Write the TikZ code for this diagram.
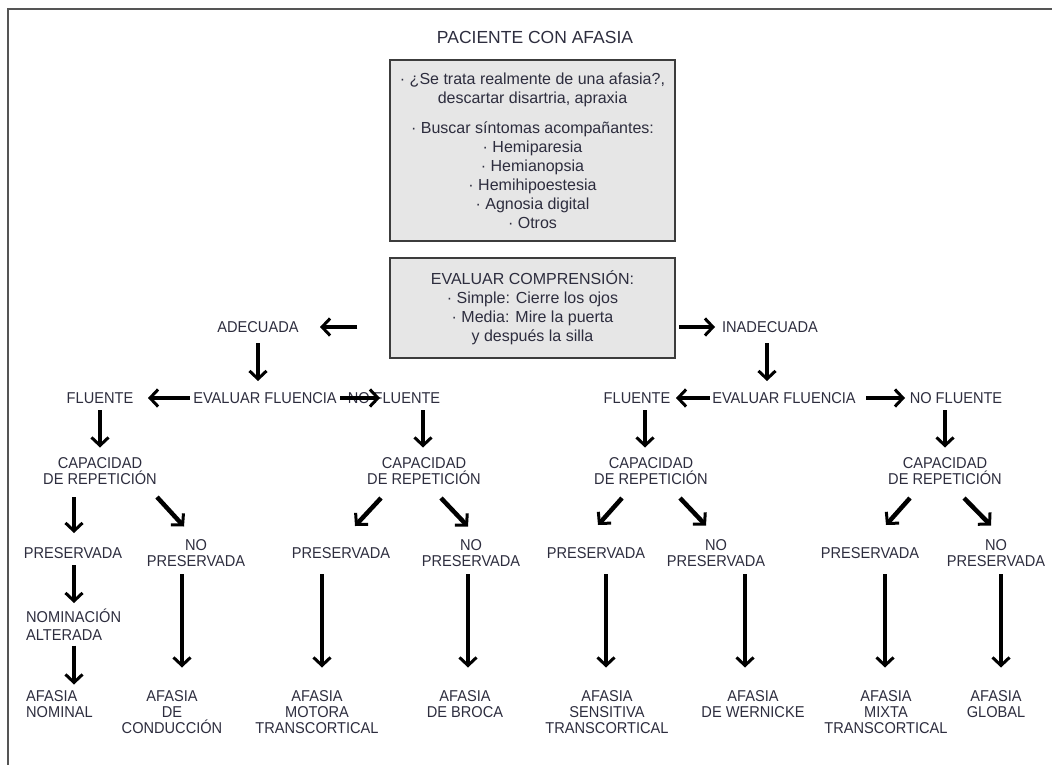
\documentclass[tikz,border=0pt]{standalone}
\usepackage{fontspec}
\setmainfont{Liberation Sans}
\newfontfamily\capsfont[FakeStretch=0.93]{Liberation Sans}
\usetikzlibrary{arrows.meta,calc}
\definecolor{txt}{RGB}{45,45,62}
\definecolor{boxfill}{RGB}{230,230,230}
\definecolor{boxline}{RGB}{60,60,60}
\definecolor{frame}{RGB}{85,85,85}
\tikzset{
  lbl/.style={inner sep=0pt, text=txt, font=\capsfont\fontsize{15.7}{16}\selectfont, align=center},
  lbll/.style={lbl, align=left},
  infobox/.style={draw=boxline, line width=1.5pt, fill=boxfill, minimum width=285pt, inner sep=0pt,
    text=txt, font=\fontsize{16}{19}\selectfont, align=center},
  arr/.style={line width=4.5pt, -{Straight Barb[length=8pt,width=17pt,line width=3pt]}},
}
\begin{document}
\begin{tikzpicture}[x=1pt,y=-1pt]
\useasboundingbox (0,0) rectangle (1052,765);
\draw[frame, line width=2pt] (8,765) -- (8,9) -- (1052,9);

\node[inner sep=0pt, text=txt, font=\fontsize{17.5}{20}\selectfont] (title) at (535,37) {PACIENTE CON AFASIA};

\node[infobox, minimum height=181pt] (box1) at (532.5,150.5) {%
· ¿Se trata realmente de una afasia?,\\
descartar disartria, apraxia\\[11pt]
· Buscar síntomas acompañantes:\\
· Hemiparesia\\
· Hemianopsia\\
· Hemihipoestesia\\
· Agnosia digital\\
· Otros};

\node[infobox, minimum height=100pt] (box2) at (532.5,308) {%
EVALUAR COMPRENSIÓN:\\
· Simple: Cierre los ojos\\
· Media: Mire la puerta\\
y después la silla};

\node[lbl] (adec) at (258,327) {ADECUADA};
\node[lbl] (inadec) at (770,327) {INADECUADA};

\node[lbl] (fl1) at (100,398) {FLUENTE};
\node[lbl] (evf1) at (265,398) {EVALUAR FLUENCIA};
\node[lbl] (nf1) at (394,398) {NO FLUENTE};
\node[lbl] (fl2) at (637,398) {FLUENTE};
\node[lbl] (evf2) at (784,398) {EVALUAR FLUENCIA};
\node[lbl] (nf2) at (956,398) {NO FLUENTE};

\node[lbl, anchor=north] (cap1) at (100,457.5) {CAPACIDAD\\DE REPETICIÓN};
\node[lbl, anchor=north] (cap2) at (424,457.5) {CAPACIDAD\\DE REPETICIÓN};
\node[lbl, anchor=north] (cap3) at (651,457.5) {CAPACIDAD\\DE REPETICIÓN};
\node[lbl, anchor=north] (cap4) at (945,457.5) {CAPACIDAD\\DE REPETICIÓN};

\node[lbl] (p1) at (73,553) {PRESERVADA};
\node[lbl] (p2) at (341,553) {PRESERVADA};
\node[lbl] (p3) at (596,553) {PRESERVADA};
\node[lbl] (p4) at (870,553) {PRESERVADA};
\node[lbl, anchor=north] (np1) at (196,539.5) {NO\\PRESERVADA};
\node[lbl, anchor=north] (np2) at (471,539.5) {NO\\PRESERVADA};
\node[lbl, anchor=north] (np3) at (716,539.5) {NO\\PRESERVADA};
\node[lbl, anchor=north] (np4) at (996,539.5) {NO\\PRESERVADA};

\node[lbll, anchor=north west, font=\capsfont\fontsize{15.7}{17.5}\selectfont] (nom) at (26,609) {NOMINACIÓN\\ALTERADA};

\node[lbll, anchor=north west] (af1) at (26,690.5) {AFASIA\\NOMINAL};
\node[lbl, anchor=north] (af2) at (172,690.5) {AFASIA\\DE\\CONDUCCIÓN};
\node[lbl, anchor=north] (af3) at (317,690.5) {AFASIA\\MOTORA\\TRANSCORTICAL};
\node[lbl, anchor=north] (af4) at (465,690.5) {AFASIA\\DE BROCA};
\node[lbl, anchor=north] (af5) at (607,690.5) {AFASIA\\SENSITIVA\\TRANSCORTICAL};
\node[lbl, anchor=north] (af6) at (753,690.5) {AFASIA\\DE WERNICKE};
\node[lbl, anchor=north] (af7) at (886,690.5) {AFASIA\\MIXTA\\TRANSCORTICAL};
\node[lbl, anchor=north] (af8) at (996,690.5) {AFASIA\\GLOBAL};

% comprension
\draw[arr] ($(box2.west)+(-32,19)$) -- ($(adec)+(62,0)$);
\draw[arr] ($(box2.east)+(3,19)$) -- ($(inadec)+(-55,0)$);
\draw[arr] ($(adec)+(0,16)$) -- ($(evf1)+(-7,-17)$);
\draw[arr] ($(inadec)+(-3,16)$) -- ($(evf2)+(-17,-17)$);
% fluencia
\draw[arr] ($(evf1)+(-75,0)$) -- ($(fl1)+(48,0)$);
\draw[arr] ($(evf1)+(75,0)$) -- ($(nf1)+(-14,0)$);
\draw[arr] ($(evf2)+(-74,0)$) -- ($(fl2)+(39,0)$);
\draw[arr] ($(evf2)+(82,0)$) -- ($(nf2)+(-51,0)$);
\draw[arr] ($(fl1)+(0,12)$) -- ($(cap1.north)+(0,-10)$);
\draw[arr] ($(nf1)+(29,12)$) -- ($(cap2.north)+(-1,-10)$);
\draw[arr] ($(fl2)+(8,12)$) -- ($(cap3.north)+(-6,-10)$);
\draw[arr] ($(nf2)+(-11,12)$) -- ($(cap4.north)+(0,-10)$);
% repeticion
\draw[arr] ($(cap1.south)+(-26,12)$) -- ($(p1)+(1,-20)$);
\draw[arr] ($(cap1.south)+(57,12)$) -- ($(np1.north)+(-12,-13)$);
\draw[arr] ($(cap2.south)+(-43,13)$) -- ($(p2)+(14,-27)$);
\draw[arr] ($(cap2.south)+(17,13)$) -- ($(np2.north)+(-3,-13)$);
\draw[arr] ($(cap3.south)+(-29,13)$) -- ($(p3)+(2,-28)$);
\draw[arr] ($(cap3.south)+(29,13)$) -- ($(np3.north)+(-10,-14)$);
\draw[arr] ($(cap4.south)+(-35,13)$) -- ($(p4)+(16,-28)$);
\draw[arr] ($(cap4.south)+(19,13)$) -- ($(np4.north)+(-5,-14)$);
% nominal
\draw[arr] ($(p1)+(1,12)$) -- ($(nom.north west)+(48,-6)$);
\draw[arr] ($(nom.south west)+(48,5)$) -- ($(af1.north west)+(48,-6)$);
% long arrows
\draw[arr] ($(np1.south)+(-14,7)$) -- ($(af2.north)+(10,-23)$);
\draw[arr] ($(p2)+(-19,21)$) -- ($(af3.north)+(5,-23)$);
\draw[arr] ($(np2.south)+(-3,7)$) -- ($(af4.north)+(3,-23)$);
\draw[arr] ($(p3)+(10,21)$) -- ($(af5.north)+(-1,-23)$);
\draw[arr] ($(np3.south)+(29,7)$) -- ($(af6.north)+(-8,-23)$);
\draw[arr] ($(p4)+(15,21)$) -- ($(af7.north)+(-1,-23)$);
\draw[arr] ($(np4.south)+(5,7)$) -- ($(af8.north)+(5,-23)$);
\end{tikzpicture}
\end{document}
